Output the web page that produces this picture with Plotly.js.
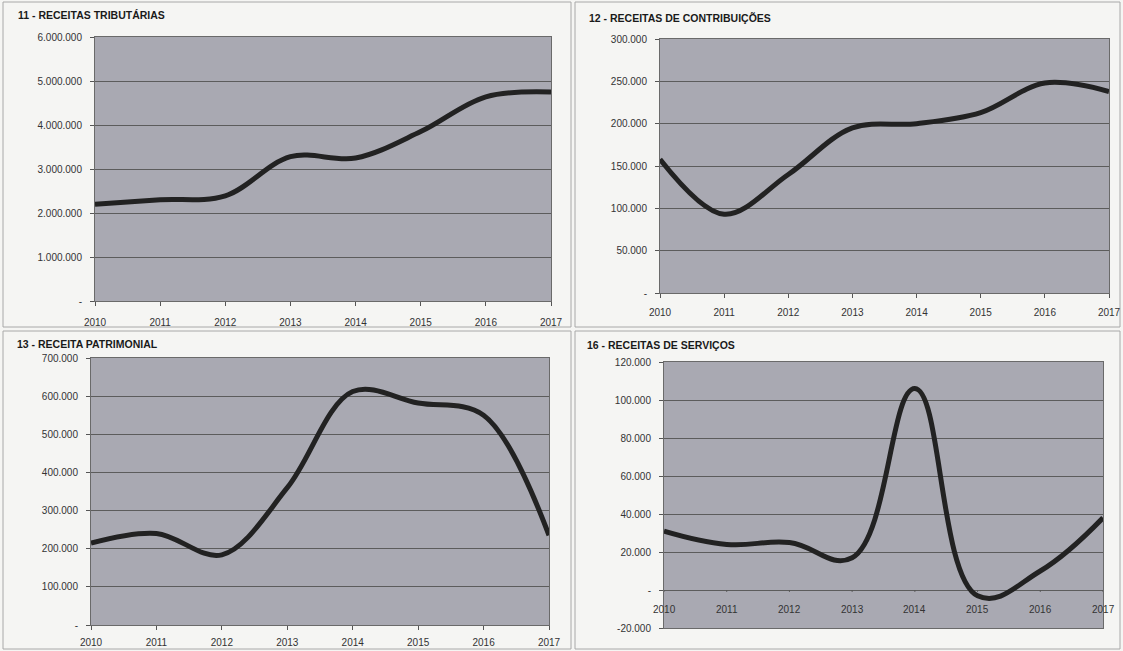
<!DOCTYPE html>
<html>
<head>
<meta charset="utf-8">
<script src="https://cdn.plot.ly/plotly-3.0.1.min.js"></script>
<style>
  html, body { margin: 0; padding: 0; background: #f5f5f3; }
  #chart { width: 1123px; height: 651px; }
</style>
</head>
<body>
<div id="chart"></div>
<script>
// ---- data ----
const years = [2010, 2011, 2012, 2013, 2014, 2015, 2016, 2017];
const yearLabels = ["2010", "2011", "2012", "2013", "2014", "2015", "2016", "2017"];

const titleTributarias = "11 - RECEITAS TRIBUTÁRIAS";
const titleContribuicoes = "12 - RECEITAS DE CONTRIBUIÇÕES";
const titlePatrimonial = "13 - RECEITA PATRIMONIAL";
const titleServicos = "16 - RECEITAS DE SERVIÇOS";

const tributarias = [2200000, 2300000, 2390000, 3280000, 3250000, 3850000, 4640000, 4750000];
const contribuicoes = [158000, 93000, 140000, 195000, 200000, 213000, 248000, 238000];
const patrimonial = [215000, 240000, 184000, 360000, 612000, 582000, 550000, 235000];
const servicos = [31000, 24000, 25000, 17000, 106000, -3000, 10000, 38000];

const ticksTrib = [0, 1000000, 2000000, 3000000, 4000000, 5000000, 6000000];
const ticksTribText = ["-", "1.000.000", "2.000.000", "3.000.000", "4.000.000", "5.000.000", "6.000.000"];
const ticksContrib = [0, 50000, 100000, 150000, 200000, 250000, 300000];
const ticksContribText = ["-", "50.000", "100.000", "150.000", "200.000", "250.000", "300.000"];
const ticksPatr = [0, 100000, 200000, 300000, 400000, 500000, 600000, 700000];
const ticksPatrText = ["-", "100.000", "200.000", "300.000", "400.000", "500.000", "600.000", "700.000"];
const ticksServ = [-20000, 0, 20000, 40000, 60000, 80000, 100000, 120000];
const ticksServText = ["-20.000", "-", "20.000", "40.000", "60.000", "80.000", "100.000", "120.000"];

// ---- layout helpers ----
const W = 1123, H = 651;
const px = v => v / W;
const py = v => 1 - v / H;

const tickFont = { family: "Liberation Sans, Arial, sans-serif", size: 10, color: "#333333" };
const titleFont = { family: "Liberation Sans, Arial, sans-serif", size: 10.5, color: "#1a1a1a" };

function mkTrace(y, n, smooth) {
  return { x: years, y: y, type: "scatter", mode: "lines",
           line: { color: "#222222", width: 5, shape: "spline", smoothing: smooth },
           xaxis: "x" + n, yaxis: "y" + n, hoverinfo: "x+y", showlegend: false };
}

const traces = [
  mkTrace(tributarias, 1, 1),
  mkTrace(contribuicoes, 2, 1),
  mkTrace(patrimonial, 3, 1),
  mkTrace(servicos, 4, 1.2)
];

function xAxis(n, x0, x1, showLabels, standoff) {
  return {
    domain: [px(x0), px(x1)], anchor: "y" + n, range: [2010, 2017],
    tickvals: years, ticktext: yearLabels, showticklabels: showLabels,
    ticks: showLabels ? "outside" : "", ticklen: 4, tickcolor: "#555",
    ticklabelstandoff: standoff,
    showgrid: false, zeroline: false, showline: true, linecolor: "#6a6a6a", linewidth: 1,
    mirror: true, tickfont: tickFont, fixedrange: true
  };
}
function yAxis(n, y0, y1, range, vals, txt) {
  return {
    domain: [py(y1), py(y0)], anchor: "x" + n, range: range,
    tickvals: vals, ticktext: txt, ticks: "outside", ticklen: 4, tickcolor: "#555",
    ticklabelstandoff: 6,
    showgrid: true, gridcolor: "#5c5c5c", gridwidth: 1, zeroline: false,
    showline: true, linecolor: "#6a6a6a", linewidth: 1, mirror: true,
    tickfont: tickFont, fixedrange: true
  };
}

const annotations = [
  { text: "<b>" + titleTributarias + "</b>", x: px(16), y: py(15) },
  { text: "<b>" + titleContribuicoes + "</b>", x: px(587), y: py(18) },
  { text: "<b>" + titlePatrimonial + "</b>", x: px(15), y: py(344) },
  { text: "<b>" + titleServicos + "</b>", x: px(585), y: py(345) }
].map(a => Object.assign({ xref: "paper", yref: "paper", xanchor: "left", yanchor: "middle",
                           showarrow: false, font: titleFont }, a));

// year labels for panel 16, which sit on the zero line
years.forEach((yr, i) => {
  annotations.push({ text: yearLabels[i], x: yr, y: 0, xref: "x4", yref: "y4",
    xanchor: "center", yanchor: "top", yshift: -12, showarrow: false, font: tickFont });
});

const shapes = [
  [3, 571, 2, 327], [575, 1120, 2, 327], [3, 571, 331, 649], [575, 1120, 331, 649]
].map(b => ({ type: "rect", xref: "paper", yref: "paper",
  x0: px(b[0]), x1: px(b[1]), y0: py(b[3]), y1: py(b[2]),
  line: { color: "#a8a8a8", width: 1 }, fillcolor: "rgba(0,0,0,0)", layer: "below" }));

// tick marks on the zero line of panel 16
years.forEach(yr => {
  shapes.push({ type: "line", xref: "x4", yref: "y4", x0: yr, x1: yr, y0: 0, y1: -1000,
    line: { color: "#555", width: 1 } });
});

const layout = {
  width: W, height: H,
  margin: { l: 0, r: 0, t: 0, b: 0 },
  paper_bgcolor: "#f5f5f3", plot_bgcolor: "#a9a9b2",
  xaxis: xAxis(1, 95, 551, true, 8),
  yaxis: yAxis(1, 37, 301, [0, 6000000], ticksTrib, ticksTribText),
  xaxis2: xAxis(2, 660, 1109, true, 6),
  yaxis2: yAxis(2, 39, 293, [0, 300000], ticksContrib, ticksContribText),
  xaxis3: xAxis(3, 91, 549, true, 4),
  yaxis3: yAxis(3, 358, 625, [0, 700000], ticksPatr, ticksPatrText),
  xaxis4: xAxis(4, 664, 1103, false, 6),
  yaxis4: yAxis(4, 362, 628, [-20000, 120000], ticksServ, ticksServText),
  annotations: annotations,
  shapes: shapes,
  showlegend: false
};

Plotly.newPlot("chart", traces, layout, { displayModeBar: false, staticPlot: true });
</script>
</body>
</html>
